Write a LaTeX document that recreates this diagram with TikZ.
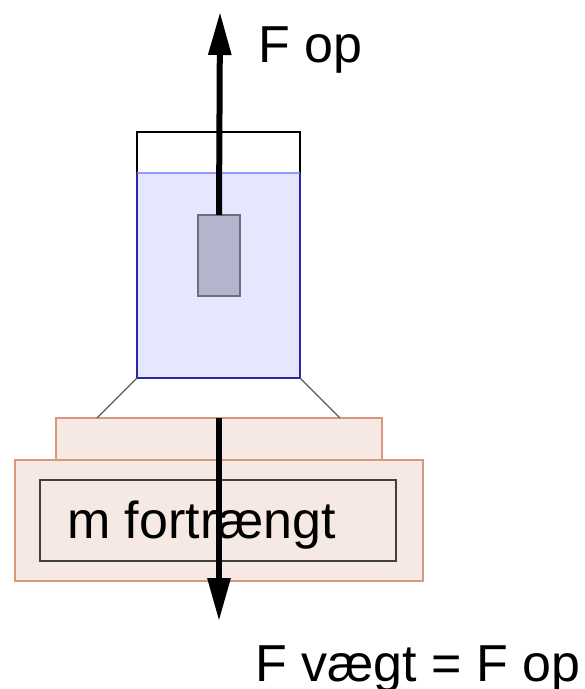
\documentclass[tikz,border=0pt]{standalone}
\usepackage{fontspec}
\setmainfont{Liberation Sans}
\usetikzlibrary{arrows.meta}
\definecolor{waterfill}{RGB}{230,230,255}
\definecolor{waterline}{RGB}{40,40,170}
\definecolor{surface}{RGB}{150,150,255}
\definecolor{blockfill}{RGB}{181,181,208}
\definecolor{blockline}{RGB}{110,110,120}
\definecolor{scalefill}{RGB}{246,232,226}
\definecolor{scaleline}{RGB}{214,154,122}
\tikzset{
  box/.style={rectangle, inner sep=0pt, outer sep=0pt},
  scalepart/.style={box, fill=scalefill, draw=scaleline, line width=1.3pt},
  force/.style={line width=6pt, -{Triangle[length=43pt, width=22pt]}},
  leg/.style={draw=black!65, line width=1.3pt},
  label/.style={inner sep=0pt, anchor=base west, font=\fontsize{52}{60}\selectfont}
}
\begin{document}
\begin{tikzpicture}[x=1pt, y=-1pt]
  \useasboundingbox (0,0) rectangle (585,689);
  % scale: base, top plate and display
  \node[scalepart, minimum width=408pt, minimum height=121pt] (base) at (219,520.5) {};
  \node[scalepart, minimum width=326pt, minimum height=42pt] (plate) at (219,439) {};
  \node[box, draw=black!75, line width=1.2pt, minimum width=356pt, minimum height=81pt] (display) at (218,520.5) {};
  \node[label] (mtxt) at (67,538) {m fortrængt};
  % beaker with water
  \node[box, draw=black, line width=1.5pt, minimum width=163pt, minimum height=246pt] (beaker) at (218.5,255) {};
  \node[box, fill=waterfill, minimum width=163pt, minimum height=205pt] (water) at (218.5,275.5) {};
  \draw[surface, line width=1.5pt] (water.north west) -- (water.north east);
  \draw[waterline, line width=1.6pt] (water.north west) -- (water.south west) -- (water.south east) -- (water.north east);
  % legs from beaker to the plate
  \coordinate (footL) at (97,418);
  \coordinate (footR) at (340,418);
  \draw[leg] (water.south west) -- (footL);
  \draw[leg] (water.south east) -- (footR);
  % submerged block
  \node[box, fill=blockfill, draw=blockline, line width=1.3pt, minimum width=42pt, minimum height=81pt] (block) at (219,255.5) {};
  % forces
  \coordinate (uptip) at (220,12);
  \coordinate (downtip) at (219,621);
  \draw[force] (block.north) -- (uptip);
  \draw[force] (plate.north) -- (downtip);
  \node[label] (fop) at (258,62) {F op};
  \node[label] (fvaegt) at (255,681) {F vægt = F op};
\end{tikzpicture}
\end{document}
